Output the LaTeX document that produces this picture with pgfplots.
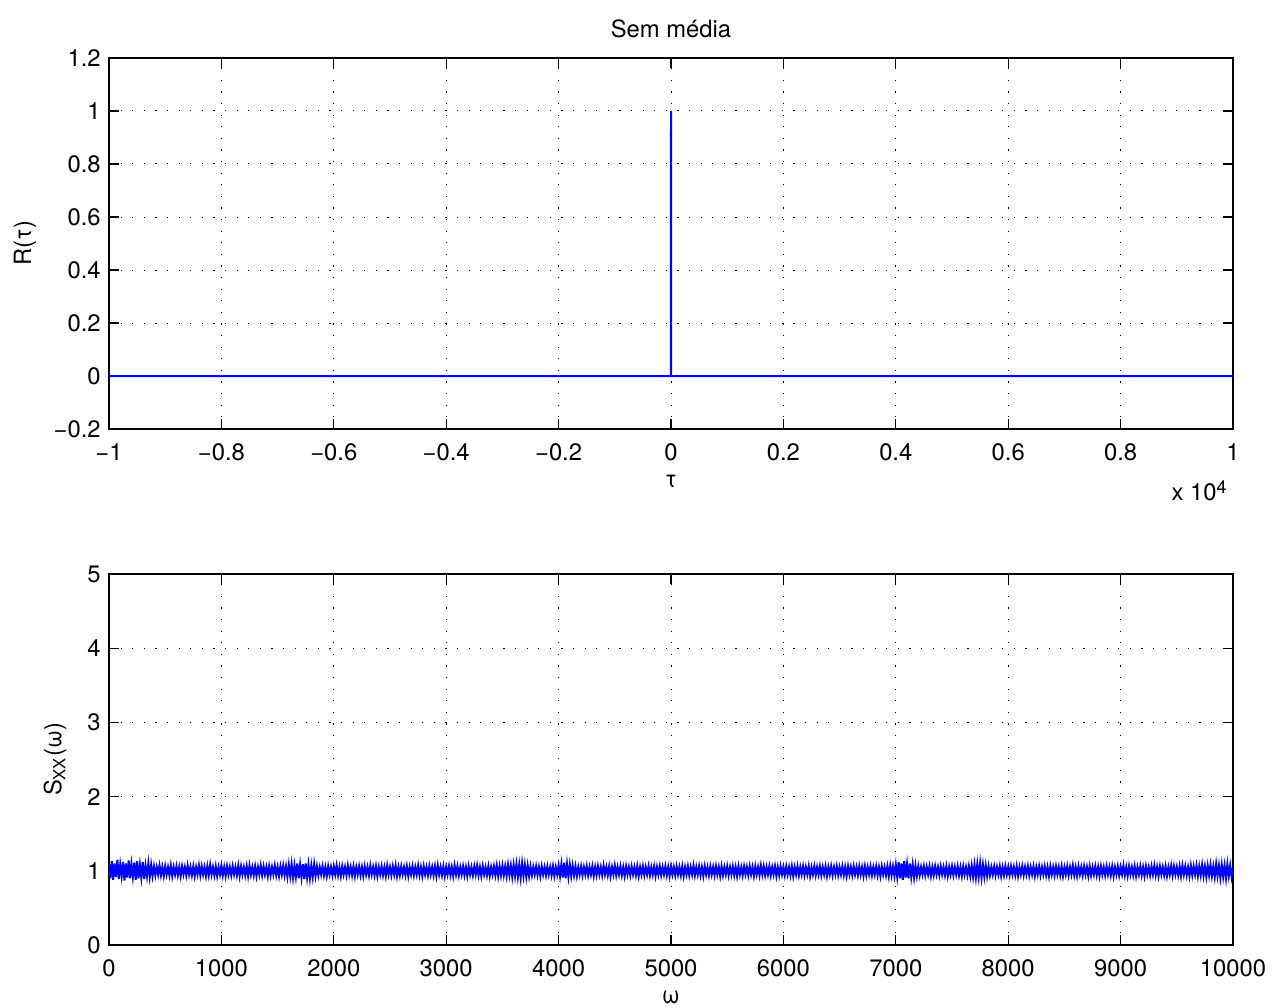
\documentclass[border=0pt]{standalone}
\usepackage{fontspec}
\setmainfont{TeX Gyre Heros}
\usepackage{pgfplots}
\pgfplotsset{compat=1.18}
\begin{document}
\fontsize{11.9}{14.3}\selectfont
\begin{tikzpicture}
\useasboundingbox (-54.5pt,-289pt) rectangle (582.5pt,214.5pt);
\pgfplotsset{
  mystyle/.style={
    width=562pt, height=185.5pt, scale only axis,
    tick align=inside, major tick length=5pt,
    grid=major,
    major grid style={black, line width=0.5pt, dash pattern=on 0.6pt off 5.2pt},
    axis line style={line width=0.7pt},
    every tick/.style={black, line width=0.6pt},
    /pgf/number format/assume math mode=true,
    /pgf/number format/1000 sep={},
    scaled ticks=false,
    xticklabel style={yshift=-3pt},
    every axis x label/.style={at={(axis description cs:0.5,0)}, anchor=base, yshift=-29pt},
    every axis title/.style={at={(axis description cs:0.5,1)}, anchor=base, yshift=10pt},
  }
}
\begin{axis}[mystyle, name=top, at={(0,0)}, anchor=south west,
  xmin=-10000, xmax=10000, ymin=-0.2, ymax=1.2,
  xtick={-10000,-8000,-6000,-4000,-2000,0,2000,4000,6000,8000,10000},
  xticklabels={−1,−0.8,−0.6,−0.4,−0.2,0,0.2,0.4,0.6,0.8,1},
  ytick={-0.2,0,0.2,0.4,0.6,0.8,1,1.2},
  yticklabels={−0.2,0,0.2,0.4,0.6,0.8,1,1.2},
  title={Sem média},
  xlabel={τ},
  ylabel={R(τ)},
  every axis y label/.style={at={(axis description cs:-0.0747,0.5)}, rotate=90, anchor=center},
]
\addplot[blue, line width=1pt] coordinates {(-10000,0) (-1,0) (0,1) (1,0) (10000,0)};
\end{axis}
\node[anchor=base east] at ([xshift=1pt,yshift=-35.5pt]top.south east) {x 10\raisebox{0.55ex}{\fontsize{9}{10}\selectfont 4}};
\begin{axis}[mystyle, at={(0,-258pt)}, anchor=south west,
  xmin=0, xmax=10000, ymin=0, ymax=5,
  xtick={0,1000,2000,3000,4000,5000,6000,7000,8000,9000,10000},
  ytick={0,1,2,3,4,5},
  xlabel={ω},
  ylabel={S\textsubscript{XX}(ω)},
  every axis y label/.style={at={(axis description cs:-0.048,0.5)}, rotate=90, anchor=center},
]
\addplot[blue, line width=1pt] table[header=false, row sep=\\, x expr=\coordindex*12.5, y index=0] {
1.09\\0.90\\1.13\\0.88\\1.10\\0.92\\1.15\\0.89\\1.08\\0.93\\
1.12\\0.87\\1.10\\0.91\\1.14\\0.90\\1.09\\0.92\\1.11\\0.88\\
1.13\\0.90\\1.08\\0.91\\1.12\\0.89\\1.07\\0.93\\1.10\\0.92\\
1.08\\0.93\\1.06\\0.94\\1.05\\0.95\\1.07\\0.94\\1.05\\0.93\\
1.06\\0.95\\1.05\\0.94\\1.07\\0.93\\1.05\\0.95\\1.06\\0.94\\
1.05\\0.93\\1.06\\0.95\\1.05\\0.94\\1.07\\0.95\\1.05\\0.94\\
1.06\\0.93\\1.05\\0.95\\1.07\\0.94\\1.06\\0.95\\1.05\\0.93\\
1.06\\0.94\\1.08\\0.95\\1.05\\0.94\\1.06\\0.93\\1.05\\0.95\\
1.07\\0.94\\1.05\\0.93\\1.06\\0.95\\1.05\\0.94\\1.06\\0.95\\
1.05\\0.94\\1.07\\0.93\\1.06\\0.95\\1.05\\0.94\\1.06\\0.93\\
1.07\\0.95\\1.05\\0.94\\1.06\\0.93\\1.05\\0.95\\1.07\\0.94\\
1.06\\0.95\\1.05\\0.93\\1.06\\0.94\\1.05\\0.95\\1.07\\0.94\\
1.05\\0.93\\1.06\\0.95\\1.07\\0.94\\1.06\\0.92\\1.08\\0.93\\
1.09\\0.91\\1.07\\0.92\\1.10\\0.90\\1.08\\0.91\\1.09\\0.89\\
1.10\\0.91\\1.08\\0.90\\1.07\\0.92\\1.09\\0.93\\1.06\\0.94\\
1.05\\0.95\\1.06\\0.94\\1.05\\0.93\\1.06\\0.95\\1.05\\0.94\\
1.06\\0.95\\1.07\\0.94\\1.05\\0.93\\1.06\\0.95\\1.05\\0.94\\
1.07\\0.95\\1.05\\0.94\\1.06\\0.93\\1.05\\0.95\\1.06\\0.94\\
1.05\\0.93\\1.06\\0.95\\1.05\\0.94\\1.07\\0.95\\1.05\\0.94\\
1.06\\0.93\\1.05\\0.95\\1.06\\0.94\\1.05\\0.93\\1.07\\0.95\\
1.05\\0.94\\1.06\\0.95\\1.07\\0.93\\1.05\\0.94\\1.06\\0.95\\
1.05\\0.94\\1.06\\0.93\\1.05\\0.95\\1.06\\0.94\\1.05\\0.95\\
1.07\\0.94\\1.05\\0.93\\1.06\\0.95\\1.05\\0.94\\1.06\\0.95\\
1.05\\0.94\\1.06\\0.93\\1.07\\0.95\\1.05\\0.94\\1.06\\0.93\\
1.05\\0.95\\1.06\\0.94\\1.05\\0.93\\1.07\\0.95\\1.06\\0.94\\
1.05\\0.95\\1.06\\0.94\\1.05\\0.93\\1.06\\0.95\\1.05\\0.94\\
1.06\\0.95\\1.07\\0.94\\1.05\\0.93\\1.06\\0.95\\1.05\\0.94\\
1.06\\0.93\\1.05\\0.95\\1.06\\0.94\\1.07\\0.93\\1.06\\0.94\\
1.07\\0.94\\1.06\\0.93\\1.08\\0.94\\1.07\\0.92\\1.08\\0.93\\
1.09\\0.92\\1.08\\0.91\\1.10\\0.93\\1.08\\0.92\\1.07\\0.93\\
1.06\\0.94\\1.05\\0.95\\1.06\\0.94\\1.05\\0.93\\1.06\\0.95\\
1.05\\0.94\\1.06\\0.95\\1.05\\0.94\\1.06\\0.93\\1.05\\0.95\\
1.07\\0.93\\1.09\\0.91\\1.11\\0.90\\1.09\\0.92\\1.08\\0.93\\
1.07\\0.94\\1.06\\0.93\\1.05\\0.95\\1.06\\0.94\\1.05\\0.95\\
1.06\\0.94\\1.05\\0.95\\1.06\\0.93\\1.05\\0.94\\1.06\\0.95\\
1.05\\0.94\\1.07\\0.95\\1.05\\0.94\\1.06\\0.93\\1.05\\0.95\\
1.07\\0.94\\1.05\\0.95\\1.06\\0.94\\1.05\\0.93\\1.06\\0.95\\
1.05\\0.94\\1.06\\0.95\\1.05\\0.94\\1.06\\0.93\\1.05\\0.95\\
1.06\\0.94\\1.05\\0.95\\1.06\\0.94\\1.05\\0.95\\1.06\\0.93\\
1.05\\0.95\\1.06\\0.94\\1.05\\0.95\\1.06\\0.94\\1.05\\0.93\\
1.06\\0.95\\1.05\\0.94\\1.06\\0.95\\1.05\\0.94\\1.06\\0.93\\
1.05\\0.95\\1.06\\0.94\\1.05\\0.95\\1.07\\0.94\\1.05\\0.95\\
1.06\\0.94\\1.05\\0.93\\1.06\\0.95\\1.05\\0.94\\1.06\\0.95\\
1.05\\0.94\\1.06\\0.95\\1.05\\0.93\\1.06\\0.94\\1.05\\0.95\\
1.06\\0.94\\1.05\\0.95\\1.06\\0.94\\1.05\\0.93\\1.06\\0.95\\
1.05\\0.94\\1.06\\0.95\\1.05\\0.94\\1.06\\0.95\\1.05\\0.93\\
1.06\\0.95\\1.05\\0.94\\1.07\\0.95\\1.06\\0.94\\1.05\\0.95\\
1.06\\0.94\\1.05\\0.95\\1.06\\0.93\\1.05\\0.94\\1.06\\0.95\\
1.05\\0.94\\1.06\\0.95\\1.05\\0.94\\1.06\\0.93\\1.05\\0.95\\
1.06\\0.94\\1.05\\0.95\\1.06\\0.94\\1.05\\0.95\\1.06\\0.93\\
1.05\\0.95\\1.06\\0.94\\1.05\\0.95\\1.06\\0.94\\1.05\\0.95\\
1.06\\0.93\\1.05\\0.95\\1.06\\0.94\\1.05\\0.95\\1.06\\0.94\\
1.05\\0.95\\1.06\\0.94\\1.05\\0.93\\1.06\\0.95\\1.05\\0.94\\
1.06\\0.95\\1.05\\0.94\\1.06\\0.95\\1.05\\0.93\\1.06\\0.94\\
1.05\\0.95\\1.06\\0.94\\1.05\\0.95\\1.06\\0.94\\1.05\\0.93\\
1.06\\0.95\\1.05\\0.94\\1.06\\0.93\\1.07\\0.94\\1.06\\0.93\\
1.08\\0.92\\1.12\\0.90\\1.10\\0.88\\1.13\\0.91\\1.09\\0.90\\
1.10\\0.92\\1.08\\0.91\\1.07\\0.93\\1.06\\0.94\\1.05\\0.95\\
1.06\\0.94\\1.05\\0.95\\1.06\\0.93\\1.05\\0.94\\1.06\\0.95\\
1.05\\0.94\\1.06\\0.95\\1.05\\0.94\\1.06\\0.93\\1.05\\0.95\\
1.06\\0.94\\1.05\\0.95\\1.06\\0.94\\1.05\\0.93\\1.06\\0.95\\
1.05\\0.94\\1.06\\0.93\\1.07\\0.92\\1.08\\0.91\\1.09\\0.92\\
1.10\\0.91\\1.08\\0.92\\1.07\\0.93\\1.06\\0.94\\1.05\\0.95\\
1.06\\0.94\\1.05\\0.95\\1.06\\0.93\\1.05\\0.94\\1.06\\0.95\\
1.05\\0.94\\1.06\\0.95\\1.05\\0.94\\1.06\\0.93\\1.05\\0.95\\
1.06\\0.94\\1.05\\0.95\\1.06\\0.94\\1.05\\0.95\\1.06\\0.93\\
1.05\\0.95\\1.06\\0.94\\1.05\\0.95\\1.06\\0.94\\1.05\\0.93\\
1.06\\0.95\\1.05\\0.94\\1.06\\0.95\\1.05\\0.94\\1.06\\0.93\\
1.05\\0.95\\1.06\\0.94\\1.05\\0.95\\1.07\\0.94\\1.05\\0.93\\
1.06\\0.95\\1.05\\0.94\\1.06\\0.95\\1.05\\0.93\\1.06\\0.94\\
1.05\\0.95\\1.06\\0.94\\1.05\\0.93\\1.06\\0.95\\1.05\\0.94\\
1.06\\0.95\\1.05\\0.94\\1.06\\0.93\\1.05\\0.95\\1.06\\0.94\\
1.05\\0.95\\1.07\\0.94\\1.05\\0.93\\1.06\\0.95\\1.05\\0.94\\
1.06\\0.93\\1.05\\0.95\\1.06\\0.94\\1.05\\0.93\\1.06\\0.95\\
1.05\\0.94\\1.06\\0.95\\1.07\\0.94\\1.05\\0.93\\1.06\\0.95\\
1.05\\0.94\\1.06\\0.93\\1.05\\0.95\\1.07\\0.94\\1.06\\0.95\\
1.05\\0.94\\1.06\\0.93\\1.07\\0.95\\1.06\\0.94\\1.05\\0.93\\
1.07\\0.94\\1.06\\0.95\\1.07\\0.93\\1.06\\0.94\\1.08\\0.93\\
1.06\\0.92\\1.07\\0.94\\1.08\\0.93\\1.06\\0.92\\1.09\\0.93\\
1.07\\0.91\\1.08\\0.92\\1.07\\0.90\\1.09\\0.93\\1.07\\0.92\\
1.04\\
};
\end{axis}
\end{tikzpicture}
\end{document}
